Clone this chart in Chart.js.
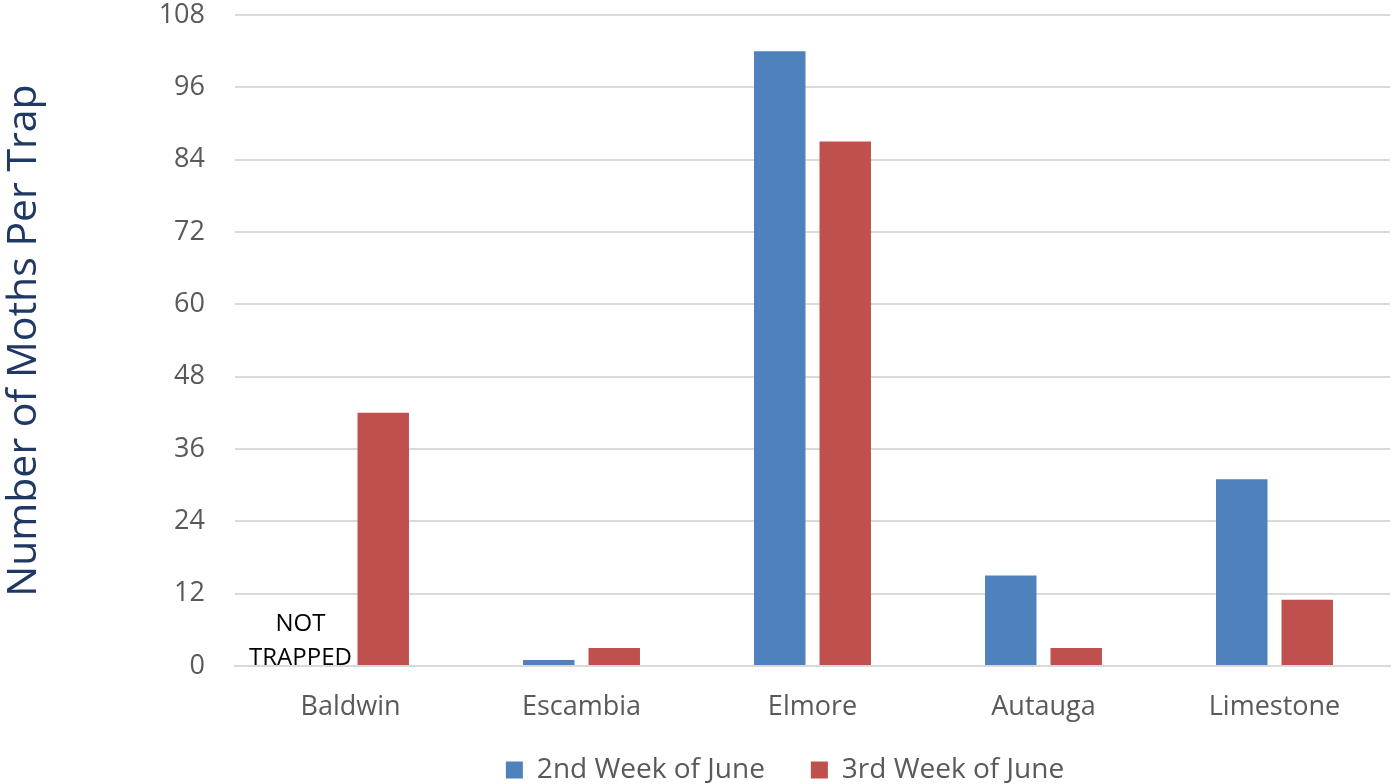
<!DOCTYPE html>
<html>
<head>
<meta charset="utf-8">
<script src="https://cdn.jsdelivr.net/npm/chart.js@4"></script>
<style>
  html, body { margin: 0; padding: 0; background: #fff; }
  #wrap { width: 1395px; height: 784px; }
</style>
</head>
<body>
<div id="wrap"><canvas id="chart"></canvas></div>
<script>
const counties = ['Baldwin', 'Escambia', 'Elmore', 'Autauga', 'Limestone'];
const secondWeek = [null, 1, 102, 15, 31];
const thirdWeek = [42, 3, 87, 3, 11];
const yTicks = [0, 12, 24, 36, 48, 60, 72, 84, 96, 108];
const notTrappedNote = ['NOT', 'TRAPPED'];

const FONT = "'Open Sans', 'Noto Sans', sans-serif";

// draws the "NOT TRAPPED" note where Baldwin's missing bar would sit
const noteLabel = {
  id: 'noteLabel',
  afterDatasetsDraw(chart) {
    const { ctx, scales } = chart;
    const x = scales.x.getPixelForValue(0) - 50;
    const y0 = scales.y.getPixelForValue(0);
    ctx.save();
    ctx.font = '24px ' + FONT;
    ctx.fillStyle = '#000';
    ctx.textAlign = 'center';
    ctx.textBaseline = 'alphabetic';
    ctx.fillText(notTrappedNote[0], x, y0 - 35);
    ctx.fillText(notTrappedNote[1], x, y0 - 1);
    ctx.restore();
  }
};

// legend sits a bit higher and more to the right than Chart.js puts it
const legendNudge = {
  id: 'legendNudge',
  afterLayout(chart) {
    const lg = chart.legend;
    lg.top -= 16;
    lg.bottom -= 16;
    lg.left += 90;
    lg.right += 90;
  }
};

const ctx = document.getElementById('chart').getContext('2d');
new Chart(ctx, {
  type: 'bar',
  data: {
    labels: counties,
    datasets: [
      {
        label: '2nd Week of June',
        data: secondWeek,
        backgroundColor: '#4F81BD',
        categoryPercentage: 0.567,
        barPercentage: 0.786,
      },
      {
        label: '3rd Week of June',
        data: thirdWeek,
        backgroundColor: '#C0504D',
        categoryPercentage: 0.567,
        barPercentage: 0.786,
      },
    ],
  },
  options: {
    responsive: true,
    maintainAspectRatio: false,
    animation: false,
    layout: { padding: { top: 15, right: 5, left: 0, bottom: -26 } },
    plugins: {
      legend: {
        position: 'bottom',
        labels: {
          boxWidth: 17,
          boxHeight: 17,
          padding: 46,
          color: '#595959',
          font: { family: FONT, size: 28 },
        },
      },
      tooltip: { enabled: false },
    },
    scales: {
      x: {
        grid: { display: false },
        border: { color: '#d9d9d9', width: 2 },
        afterFit: (scale) => { scale.height = 60; },
        ticks: {
          color: '#595959',
          padding: 17,
          font: { family: FONT, size: 27 },
        },
      },
      y: {
        min: 0,
        max: 108,
        afterBuildTicks: (scale) => { scale.ticks = yTicks.map((v) => ({ value: v })); },
        afterFit: (scale) => {
          scale.width = 235;
          scale.paddingTop = 0;
          scale.paddingBottom = 0;
        },
        grid: { color: '#d9d9d9', lineWidth: 2, drawTicks: false },
        border: { display: false },
        ticks: {
          color: '#595959',
          padding: 30,
          font: { family: FONT, size: 27 },
        },
        title: {
          display: true,
          text: 'Number of Moths Per Trap',
          color: '#1F3864',
          padding: 0,
          font: { family: FONT, size: 41 },
        },
      },
    },
  },
  plugins: [noteLabel, legendNudge],
});
</script>
</body>
</html>
